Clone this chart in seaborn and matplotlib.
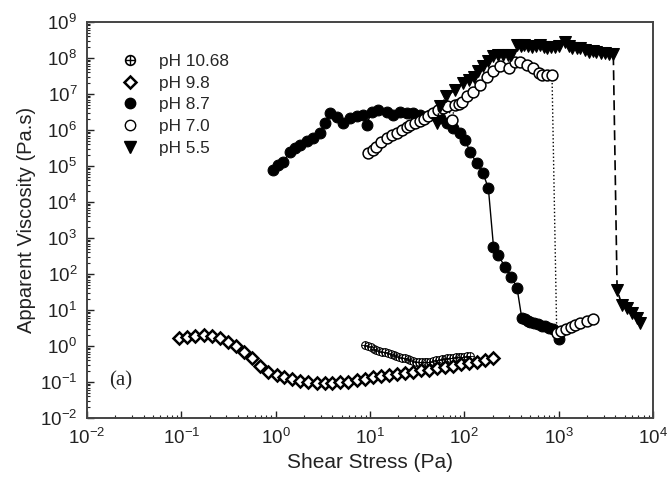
import numpy as np
import pandas as pd
import seaborn as sns
import matplotlib.pyplot as plt
from matplotlib.lines import Line2D
from matplotlib.ticker import LogLocator, NullFormatter

# ---- data (shear stress in Pa, viscosity in Pa.s) ----
ph1068_x = [8.91, 9.55, 10.2, 11.0, 11.7, 12.6, 13.5, 14.5, 15.5, 16.6, 17.8, 19.1, 20.4,
            21.9, 23.4, 25.1, 26.9, 28.8, 30.9, 33.1, 35.5, 38.0, 40.7, 43.7, 46.8, 50.1,
            53.7, 57.5, 61.7, 66.1, 70.8, 75.9, 81.3, 87.1, 93.3, 100, 107, 115]
ph1068_y = [1.05, 0.98, 0.91, 0.85, 0.79, 0.74, 0.70, 0.66, 0.62, 0.58, 0.55, 0.52, 0.50,
            0.47, 0.45, 0.43, 0.41, 0.39, 0.37, 0.36, 0.35, 0.35, 0.36, 0.37, 0.38, 0.40,
            0.41, 0.43, 0.44, 0.45, 0.46, 0.47, 0.48, 0.49, 0.50, 0.51, 0.52, 0.53]

ph98_x = [0.0946, 0.114, 0.140, 0.174, 0.213, 0.257, 0.315, 0.377, 0.462, 0.558, 0.684,
          0.838, 1.03, 1.23, 1.50, 1.82, 2.22, 2.73, 3.34, 3.99, 4.82, 5.90, 7.24, 8.87,
          10.9, 13.2, 16.1, 19.5, 23.7, 28.8, 35.1, 42.7, 51.9, 63.1, 76.6, 93.1, 113,
          138, 167, 204]
ph98_y = [1.64, 1.82, 1.90, 2.02, 1.90, 1.64, 1.32, 1.02, 0.69, 0.45, 0.28, 0.19, 0.156,
          0.134, 0.119, 0.107, 0.098, 0.092, 0.092, 0.092, 0.098, 0.102, 0.114, 0.121,
          0.134, 0.145, 0.155, 0.165, 0.18, 0.19, 0.21, 0.22, 0.24, 0.26, 0.28, 0.31,
          0.34, 0.37, 0.41, 0.45]

ph87_x = [0.946, 1.07, 1.21, 1.42, 1.61, 1.82, 2.14, 2.51, 2.95, 3.31, 3.78, 4.45, 5.22,
          6.15, 7.24, 8.51, 9.25, 10.4, 12.3, 15.1, 17.7, 20.9, 24.5, 28.8, 33.9, 43.4,
          55.3, 65.2, 76.6, 90.2, 102, 115, 135, 158, 180, 204, 229, 269, 316, 363, 407,
          437, 468, 501, 550, 603, 661, 724, 794, 871, 1000]
ph87_y = [7.7e4, 1.07e5, 1.32e5, 2.5e5, 3.1e5, 3.8e5, 4.8e5, 5.9e5, 8.1e5, 1.55e6, 2.9e6,
          2.3e6, 1.55e6, 2.1e6, 2.5e6, 2.6e6, 1.4e6, 3.2e6, 3.6e6, 3.2e6, 2.6e6, 3.2e6,
          2.9e6, 2.9e6, 2.6e6, 2.6e6, 2.1e6, 1.55e6, 1.12e6, 8.1e5, 5.2e5, 2.5e5, 1.2e5,
          6.3e4, 2.4e4, 575, 339, 158, 85, 40, 5.9, 5.5, 5.0, 4.7, 4.4, 4.0, 3.7, 3.5,
          3.2, 3.0, 1.55]

ph70_x = [9.55, 10.7, 11.7, 13.2, 15.1, 17.0, 19.5, 21.9, 24.5, 26.9, 30.2, 33.9, 37.2,
          41.7, 46.8, 52.5, 58.9, 66.1, 74.1, 79.4, 87.1, 95.5, 107, 123, 148, 174, 204,
          240, 295, 347, 389, 457, 537, 617, 661, 750, 851, 955, 1070, 1200, 1350, 1510,
          1700, 2000, 2340]
ph70_y = [2.3e5, 2.8e5, 3.4e5, 4.5e5, 6.0e5, 7.1e5, 8.3e5, 1.0e6, 1.2e6, 1.4e6, 1.6e6,
          1.8e6, 2.0e6, 2.4e6, 3.0e6, 3.5e6, 4.2e6, 4.7e6, 1.9e6, 4.9e6, 5.2e6, 5.8e6,
          8.5e6, 1.15e7, 1.8e7, 3.0e7, 4.2e7, 5.8e7, 5.1e7, 7.9e7, 7.9e7, 6.5e7, 5.1e7,
          3.7e7, 3.4e7, 3.4e7, 3.4e7, 2.3, 2.6, 3.0, 3.4, 3.8, 4.3, 4.9, 5.6]

ph55_x = [51.3, 55.0, 64.6, 79.4, 97.7, 112, 126, 141, 158, 178, 204, 229, 257, 288, 316,
          363, 398, 427, 468, 525, 575, 631, 692, 750, 832, 912, 1020, 1170, 1290, 1380,
          1550, 1700, 1900, 2090, 2290, 2510, 2820, 3090, 3390, 3800, 4170, 4680, 5250,
          5960, 6760, 7240]
ph55_y = [1.55e6, 4.5e6, 8.5e6, 1.3e7, 2.0e7, 2.5e7, 3.0e7, 4.2e7, 5.8e7, 8.3e7, 1.1e8,
          1.17e8, 1.2e8, 1.2e8, 1.2e8, 2.3e8, 2.2e8, 2.3e8, 2.1e8, 2.0e8, 2.2e8, 2.3e8,
          2.0e8, 1.9e8, 1.95e8, 2.0e8, 2.1e8, 2.8e8, 2.1e8, 1.9e8, 1.9e8, 1.9e8, 1.65e8,
          1.5e8, 1.55e8, 1.5e8, 1.4e8, 1.35e8, 1.3e8, 1.3e8, 36, 14, 11, 8.1, 5.9, 4.3]

labels = ["pH 10.68", "pH 9.8", "pH 8.7", "pH 7.0", "pH 5.5"]
x_decades = [-2, -1, 0, 1, 2, 3, 4]
y_decades = [-2, -1, 0, 1, 2, 3, 4, 5, 6, 7, 8, 9]

sns.set_style("ticks")
plt.rcParams["font.family"] = ["Liberation Sans", "DejaVu Sans"]
plt.rcParams["mathtext.fontset"] = "custom"
plt.rcParams["mathtext.rm"] = "Liberation Sans"
plt.rcParams["mathtext.default"] = "regular"
plt.rcParams["axes.unicode_minus"] = False

fig = plt.figure(figsize=(6.69, 4.83), dpi=100)
ax = fig.add_axes([0.130, 0.1346, 0.846, 0.820])
ax.set_xscale("log")
ax.set_yscale("log")

k = "black"


def draw(x, y, **kw):
    d = pd.DataFrame({"x": x, "y": y})
    sns.lineplot(data=d, x="x", y="y", estimator=None, sort=False, color=k, ax=ax, **kw)


# pH 10.68 crossed circles
draw(ph1068_x, ph1068_y, marker="o", markersize=5.5, markerfacecolor="white",
     markeredgecolor=k, markeredgewidth=0.8, linestyle="none")
draw(ph1068_x, ph1068_y, marker="+", markersize=5.5, markeredgecolor=k,
     markeredgewidth=0.6, linestyle="none")
# pH 9.8 diamonds
draw(ph98_x, ph98_y, marker="D", markersize=6.4, markerfacecolor="white",
     markeredgecolor=k, markeredgewidth=1.8, linestyle="none")
# pH 8.7 filled circles, solid line
draw(ph87_x, ph87_y, marker="o", markersize=7.8, markerfacecolor=k,
     markeredgecolor=k, linewidth=1.0, linestyle="-")
# pH 7.0 open circles, dotted line
draw(ph70_x, ph70_y, marker="o", markersize=7.8, markerfacecolor="white",
     markeredgecolor=k, markeredgewidth=1.1, linewidth=1.0, linestyle=":")
# pH 5.5 triangles, dashed line
draw(ph55_x, ph55_y, marker="v", markersize=8.2, markerfacecolor=k,
     markeredgecolor=k, linewidth=1.2, linestyle=(0, (6, 3)))

ax.set_xlim(1e-2, 1e4)
ax.set_ylim(1e-2, 1e9)
ax.set_xticks([10.0 ** p for p in x_decades])
ax.set_yticks([10.0 ** p for p in y_decades])
for a in (ax.xaxis, ax.yaxis):
    a.set_minor_locator(LogLocator(base=10, subs=np.arange(2, 10), numticks=100))
    a.set_minor_formatter(NullFormatter())
ax.set_xlim(1e-2, 1e4)
ax.set_ylim(1e-2, 1e9)

for s in ax.spines.values():
    s.set_color("#444444")
    s.set_linewidth(1.4)
ax.tick_params(which="both", direction="in", top=False, right=False, colors="#222222",
               labelsize=13.5, labelcolor="#222222")
ax.tick_params(which="major", length=5, width=1.0)
ax.tick_params(which="minor", length=2.5, width=0.8)
ax.tick_params(axis="x", pad=7)
ax.tick_params(axis="y", pad=7)

ax.set_xlabel("Shear Stress (Pa)", fontsize=15, color="#222222", labelpad=4)
ax.set_ylabel("Apparent Viscosity (Pa.s)", fontsize=14.5, color="#222222", labelpad=3)

ax.text(0.04, 0.095, "(a)", transform=ax.transAxes, fontsize=15,
        family=["Liberation Serif", "DejaVu Serif"], va="center", ha="left")

handles = [
    (Line2D([], [], marker="o", markersize=7, markerfacecolor="white", markeredgecolor=k,
            markeredgewidth=1.2, linestyle="none"),
     Line2D([], [], marker="+", markersize=7, markeredgecolor=k, markeredgewidth=1.0,
            linestyle="none")),
    Line2D([], [], marker="D", markersize=6, markerfacecolor="white", markeredgecolor=k,
           markeredgewidth=1.8, linestyle="none"),
    Line2D([], [], marker="o", markersize=7.5, color=k, linestyle="none"),
    Line2D([], [], marker="o", markersize=7.5, markerfacecolor="white", markeredgecolor=k,
           markeredgewidth=1.0, linestyle="none"),
    Line2D([], [], marker="v", markersize=8, color=k, linestyle="none"),
]
ax.legend(handles, labels, loc="upper left", bbox_to_anchor=(0.045, 0.936), frameon=False,
          fontsize=12.4, handlelength=1.2, handletextpad=1.1, labelspacing=0.38,
          borderaxespad=0)

fig.savefig("out.png", dpi=100)
